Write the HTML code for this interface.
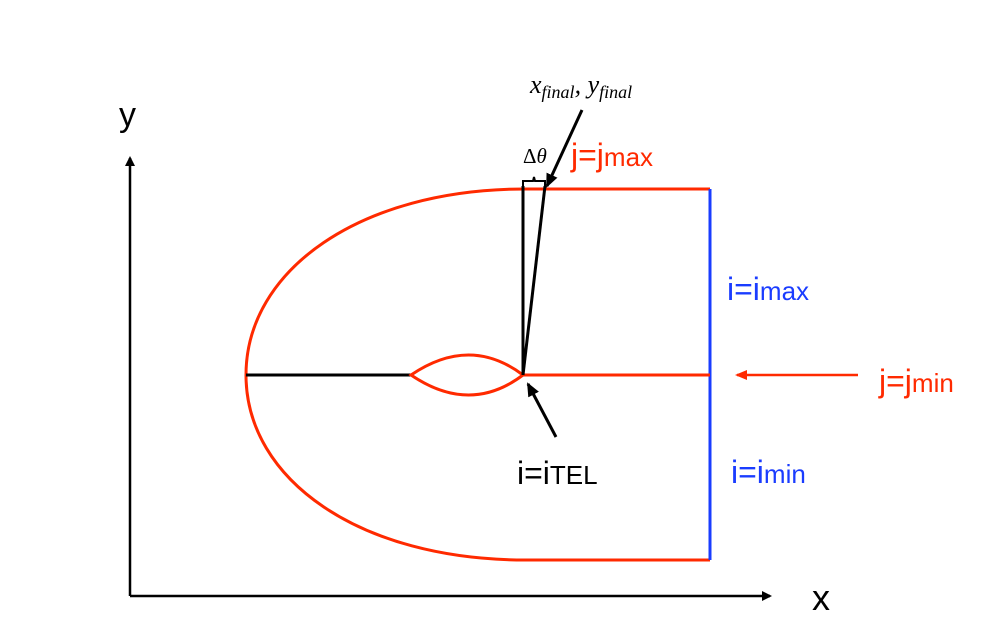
<!DOCTYPE html>
<html><head><meta charset="utf-8"><style>
html,body{margin:0;padding:0;background:#fff;}
svg{display:block;}
.sans{font-family:"Liberation Sans",sans-serif;}
.serif{font-family:"Liberation Serif",serif;}
</style></head><body>
<svg width="1007" height="639" viewBox="0 0 1007 639">
<defs>
<marker id="ab" markerWidth="10" markerHeight="10" refX="8" refY="5" orient="auto" markerUnits="userSpaceOnUse"><path d="M0,0 L10,5 L0,10 z" fill="#000"/></marker>
<marker id="ar" markerWidth="12" markerHeight="10" refX="10" refY="5" orient="auto" markerUnits="userSpaceOnUse"><path d="M0,0 L12,5 L0,10 z" fill="#ff2a00"/></marker>
<marker id="ak" markerWidth="14" markerHeight="12" refX="12" refY="6" orient="auto" markerUnits="userSpaceOnUse"><path d="M0,0 L14,6 L0,12 z" fill="#000"/></marker>
</defs>
<line x1="130" y1="596" x2="130" y2="158" stroke="#000" stroke-width="2.5" marker-end="url(#ab)"/>
<line x1="130" y1="596" x2="770" y2="596" stroke="#000" stroke-width="2.5" marker-end="url(#ab)"/>
<text class="sans" x="119" y="126" font-size="34">y</text>
<text class="sans" x="812" y="610" font-size="36">x</text>
<path d="M710,189 L525,189 C360,189 246,270 246,375 C246,480 360,560 525,560 L710,560" fill="none" stroke="#ff2a00" stroke-width="3"/>
<line x1="710" y1="189" x2="710" y2="560" stroke="#1a3cff" stroke-width="3"/>
<line x1="246" y1="375" x2="411" y2="375" stroke="#000" stroke-width="3"/>
<path d="M411,375 Q470,335 523,375 Q470,415 411,375 Z" fill="none" stroke="#ff2a00" stroke-width="3"/>
<line x1="523" y1="375" x2="710" y2="375" stroke="#ff2a00" stroke-width="3"/>
<line x1="858" y1="375" x2="737" y2="375" stroke="#ff2a00" stroke-width="2.5" marker-end="url(#ar)"/>
<line x1="523" y1="375" x2="523" y2="186" stroke="#000" stroke-width="3"/>
<line x1="523" y1="375" x2="545" y2="186" stroke="#000" stroke-width="3"/>
<path d="M523,188 L523,181 L533,181 L534,177 L535,181 L545,181 L545,188" fill="none" stroke="#000" stroke-width="2"/>
<line x1="582" y1="110" x2="547" y2="186" stroke="#000" stroke-width="3" marker-end="url(#ak)"/>
<line x1="556" y1="437" x2="528" y2="384" stroke="#000" stroke-width="3" marker-end="url(#ak)"/>
<text class="serif" x="530" y="93" font-size="26" font-style="italic">x<tspan font-size="18" dy="5">final</tspan><tspan dy="-5">, y</tspan><tspan font-size="18" dy="5">final</tspan></text>
<text class="serif" x="523" y="163" font-size="21">Δ<tspan font-style="italic">θ</tspan></text>
<text class="sans" x="571" y="166" font-size="32" fill="#ff2a00">j=j<tspan font-size="26">max</tspan></text>
<text class="sans" x="727" y="300" font-size="32" fill="#1a3cff">i=i<tspan font-size="26">max</tspan></text>
<text class="sans" x="879" y="392" font-size="32" fill="#ff2a00">j=j<tspan font-size="26">min</tspan></text>
<text class="sans" x="517" y="484" font-size="32" fill="#000">i=i<tspan font-size="26">TEL</tspan></text>
<text class="sans" x="731" y="483" font-size="32" fill="#1a3cff">i=i<tspan font-size="26">min</tspan></text>
</svg>
</body></html>
